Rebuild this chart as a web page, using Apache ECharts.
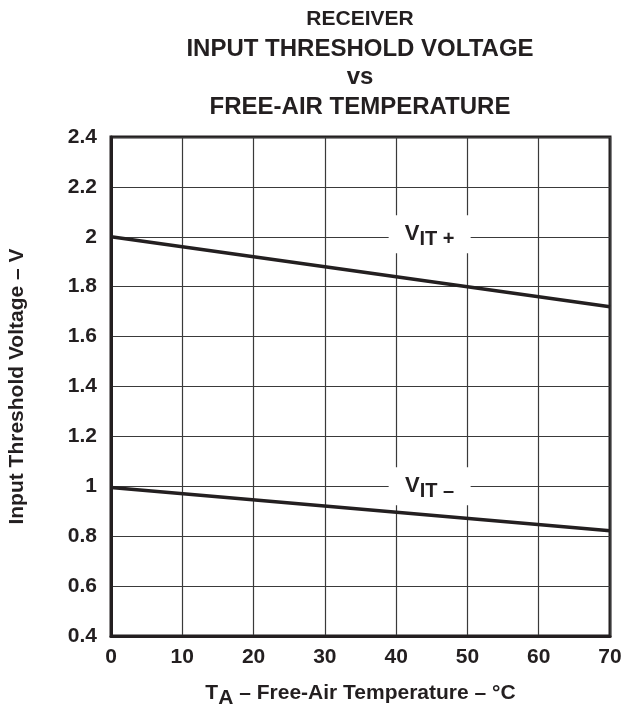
<!DOCTYPE html>
<html>
<head>
<meta charset="utf-8">
<script src="https://cdn.jsdelivr.net/npm/echarts@6/dist/echarts.min.js"></script>
<style>
  html, body { margin: 0; padding: 0; background: #fff; }
  #chart { width: 626px; height: 709px; }
</style>
</head>
<body>
<div id="chart"></div>
<script>
// temperatures (°C) and read-off threshold voltages (V)
var temps = [0, 70];
var vitPlus = [2.0, 1.72];
var vitMinus = [0.995, 0.822];
var titleLines = ["RECEIVER", "INPUT THRESHOLD VOLTAGE", "vs", "FREE-AIR TEMPERATURE"];

var font = "Liberation Sans";
var ink = "#231f20";

function pairs(xs, ys) {
  return xs.map(function (x, i) { return [x, ys[i]]; });
}

var labelRich = {
  v: { fontFamily: font, fontWeight: "bold", fontSize: 22, color: ink },
  s: { fontFamily: font, fontWeight: "bold", fontSize: 20, color: ink, padding: [10, 0, 0, 0] }
};

function curveLabel(x, y, sign) {
  return {
    symbol: "rect",
    symbolSize: [82, 38],
    itemStyle: { color: "#fff" },
    silent: true,
    label: {
      show: true,
      position: "inside",
      formatter: "{v|V}{s|IT " + sign + "}",
      rich: labelRich
    },
    data: [{ coord: [x, y] }]
  };
}

function titleLine(text, top, size) {
  return {
    text: text, left: 360, top: top, textAlign: "center", padding: 0,
    textStyle: { fontFamily: font, fontWeight: "bold", fontSize: size, color: ink }
  };
}

var chart = echarts.init(document.getElementById("chart"));
chart.setOption({
  animation: false,
  backgroundColor: "#fff",
  title: [
    titleLine(titleLines[0], 9, 21),
    titleLine(titleLines[1], 37, 24),
    titleLine(titleLines[2], 65, 24),
    titleLine(titleLines[3], 95, 24)
  ],
  grid: {
    left: 111, right: 16, top: 137, bottom: 73,
    outerBoundsMode: "none",
    show: true, borderColor: ink, borderWidth: 3
  },
  xAxis: {
    type: "value",
    min: 0, max: 70, interval: 10,
    axisLine: { show: true, lineStyle: { color: ink, width: 3 } },
    axisTick: { show: false },
    splitLine: { show: true, lineStyle: { color: "#3a3a3a", width: 1.2 } },
    axisLabel: { margin: 11, color: ink, fontFamily: font, fontWeight: "bold", fontSize: 21 },
    name: "{t|T}{a|A}{t| – Free-Air Temperature – °C}",
    nameLocation: "middle",
    nameGap: 42,
    nameTextStyle: {
      rich: {
        t: { fontFamily: font, fontWeight: "bold", fontSize: 21, color: ink },
        a: { fontFamily: font, fontWeight: "bold", fontSize: 21, color: ink, padding: [10, 0, 0, 0] }
      }
    }
  },
  yAxis: {
    type: "value",
    min: 0.4, max: 2.4, interval: 0.2,
    axisLine: { show: true, lineStyle: { color: ink, width: 3 } },
    axisTick: { show: false },
    splitLine: { show: true, lineStyle: { color: "#3a3a3a", width: 1.2 } },
    axisLabel: {
      margin: 14, color: ink, fontFamily: font, fontWeight: "bold", fontSize: 21,
      formatter: function (v) { return String(Math.round(v * 10) / 10); }
    },
    name: "Input Threshold Voltage – V",
    nameLocation: "middle",
    nameGap: 83,
    nameTextStyle: { fontFamily: font, fontWeight: "bold", fontSize: 21, color: ink }
  },
  series: [
    {
      name: "VIT+",
      type: "line",
      data: pairs(temps, vitPlus),
      showSymbol: false,
      lineStyle: { color: ink, width: 3.5 },
      markPoint: curveLabel(44.7, 2.01, "+")
    },
    {
      name: "VIT-",
      type: "line",
      data: pairs(temps, vitMinus),
      showSymbol: false,
      lineStyle: { color: ink, width: 3.5 },
      markPoint: curveLabel(44.7, 1.0, "–")
    }
  ]
});
</script>
</body>
</html>
